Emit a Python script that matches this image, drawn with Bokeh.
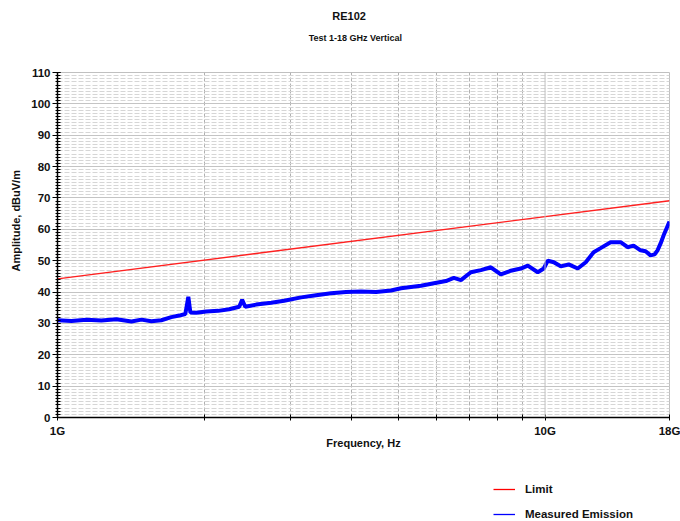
from bokeh.plotting import figure
from bokeh.layouts import column
from bokeh.models import (Range1d, FixedTicker, SingleIntervalTicker, Legend,
                          LegendItem, Span, Title, Label)
from bokeh.embed import file_html
from bokeh.resources import INLINE

# ---- data ----
freq_ghz = [1.000, 1.068, 1.147, 1.230, 1.321, 1.418, 1.486, 1.558, 1.633, 1.712,
            1.777, 1.829, 1.855, 1.873, 1.926, 2.019, 2.136, 2.250, 2.359, 2.392,
            2.427, 2.556, 2.744, 2.917, 3.160, 3.392, 3.640, 3.907, 4.194, 4.501,
            4.831, 5.065, 5.309, 5.565, 5.917, 6.261, 6.502, 6.721, 7.045, 7.385,
            7.741, 8.115, 8.506, 8.918, 9.218, 9.663, 9.940, 10.13, 10.42, 10.77,
            11.18, 11.67, 12.12, 12.58, 13.00, 13.63, 14.29, 14.77, 15.19, 15.70,
            16.08, 16.46, 16.78, 17.01, 17.26, 17.50, 17.83, 18.00]
emission_dbuv = [31.0, 30.8, 31.2, 30.9, 31.3, 30.6, 31.2, 30.7, 31.0, 32.0,
                 32.5, 33.0, 38.5, 33.5, 33.4, 33.8, 34.0, 34.5, 35.3, 37.5,
                 35.3, 36.0, 36.6, 37.2, 38.3, 39.0, 39.6, 40.0, 40.2, 40.0,
                 40.5, 41.2, 41.6, 42.0, 42.8, 43.5, 44.5, 43.8, 46.3, 47.0,
                 47.9, 45.6, 46.8, 47.5, 48.4, 46.3, 47.5, 50.0, 49.5, 48.2,
                 48.8, 47.5, 49.5, 52.7, 54.0, 55.9, 55.9, 54.3, 54.8, 53.3,
                 53.0, 51.7, 52.0, 53.3, 55.5, 58.0, 61.0, 62.5]
limit_freq_ghz = [1.0, 18.0]
limit_dbuv = [44.2, 69.1]

x_tick_values = [1, 2, 3, 4, 5, 6, 7, 8, 9, 10, 18]
x_tick_labels = {1: "1G", 10: "10G", 18: "18G"}
x_dashed_grid = [2, 3, 4, 5, 6, 7, 8, 9]

FONT = "Liberation Sans"
TXT = "#111111"

# ---------------- header (titles) ----------------
head = figure(width=680, height=60, x_range=Range1d(0, 680), y_range=Range1d(0, 60),
              x_axis_type=None, y_axis_type=None, output_backend="svg",
              toolbar_location=None, min_border=0, title_location=None)
head.outline_line_color = None
head.grid.visible = False
head.add_layout(Label(x=324, y=45, text="RE102", text_align="center",
                     text_baseline="middle", text_font=FONT, text_font_style="bold",
                     text_font_size="11px", text_color=TXT))
head.add_layout(Label(x=331, y=23, text="Test 1-18 GHz Vertical", text_align="center",
                     text_baseline="middle", text_font=FONT, text_font_style="bold",
                     text_font_size="9px", text_color=TXT))

# ---------------- main chart ----------------
p = figure(width=680, height=410, x_axis_type="log",
           x_range=Range1d(1, 18), y_range=Range1d(0, 110),
           output_backend="svg", toolbar_location=None,
           min_border_left=55, min_border_right=11,
           min_border_top=12, min_border_bottom=53,
           title_location=None)
p.background_fill_color = "white"
p.border_fill_color = "white"
p.outline_line_color = "#c0c0c0"

p.xaxis.ticker = FixedTicker(ticks=x_tick_values, minor_ticks=[])
p.xaxis.major_label_overrides = {v: x_tick_labels.get(v, "") for v in x_tick_values}
p.xaxis.axis_line_color = "black"
p.xaxis.axis_line_width = 1.5
p.xaxis.major_tick_in = 3
p.xaxis.major_tick_out = 3
p.xaxis.major_tick_line_color = "black"
p.xaxis.major_label_standoff = 4
p.xaxis.major_label_text_font = FONT
p.xaxis.major_label_text_font_style = "bold"
p.xaxis.major_label_text_font_size = "11.5px"
p.xaxis.major_label_text_color = TXT
p.xaxis.axis_label = "Frequency, Hz"
p.xaxis.axis_label_text_font = FONT
p.xaxis.axis_label_text_font_style = "bold"
p.xaxis.axis_label_text_font_size = "11px"
p.xaxis.axis_label_text_color = TXT
p.xaxis.axis_label_standoff = -3

yt = SingleIntervalTicker(interval=10, num_minor_ticks=10)
p.yaxis.ticker = yt
p.yaxis.axis_line_color = "black"
p.yaxis.axis_line_width = 1.5
p.yaxis.major_tick_in = 3
p.yaxis.major_tick_out = 5
p.yaxis.minor_tick_in = 3
p.yaxis.minor_tick_out = 2
p.yaxis.major_tick_line_color = "black"
p.yaxis.minor_tick_line_color = "black"
p.yaxis.major_label_standoff = 2
p.yaxis.major_label_text_font = FONT
p.yaxis.major_label_text_font_style = "bold"
p.yaxis.major_label_text_font_size = "11.5px"
p.yaxis.major_label_text_color = TXT

p.xgrid.ticker = FixedTicker(ticks=x_dashed_grid, minor_ticks=[])
p.xgrid.grid_line_color = "#b0b0b0"
p.xgrid.grid_line_dash = "4 2"
p.ygrid.ticker = yt
p.ygrid.grid_line_color = "#c4c4c4"
p.ygrid.minor_grid_line_color = "#d6d6d6"
p.ygrid.minor_grid_line_dash = "5 2"
p.add_layout(Span(location=10, dimension="height", line_color="#c0c0c0", line_width=1))

p.line(limit_freq_ghz, limit_dbuv, line_color="#ff2020", line_width=1.4)
p.line(freq_ghz, emission_dbuv, line_color="#0000ff", line_width=4)

p.add_layout(Title(text="Amplitude, dBuV/m", align="left", offset=146, standoff=14,
                   text_font=FONT, text_font_style="bold",
                   text_font_size="11px", text_color=TXT), "left")

# ---------------- legend strip ----------------
leg = figure(width=680, height=51, x_range=Range1d(0, 680), y_range=Range1d(0, 51),
             x_axis_type=None, y_axis_type=None, output_backend="svg",
             toolbar_location=None, min_border=0, title_location=None)
leg.outline_line_color = None
leg.grid.visible = False
# sample renderers kept outside the visible range; only their legend glyphs show
leg_lim = leg.line([-20, -10], [-20, -20], line_color="#ff0000", line_width=1.3)
leg_meas = leg.line([-20, -10], [-20, -20], line_color="#0000ff", line_width=1.3)
legend = Legend(items=[LegendItem(label="Limit", renderers=[leg_lim]),
                       LegendItem(label="Measured Emission", renderers=[leg_meas])],
                location=(436, 0), orientation="vertical",
                border_line_color=None, background_fill_alpha=0,
                padding=0, margin=0, spacing=11,
                glyph_width=22, glyph_height=14, label_height=14,
                label_standoff=10, label_text_font=FONT,
                label_text_font_style="bold", label_text_font_size="11.5px",
                label_text_color=TXT)
leg.add_layout(legend, "center")

open("out.html", "w").write(file_html(column(head, p, leg), INLINE))
